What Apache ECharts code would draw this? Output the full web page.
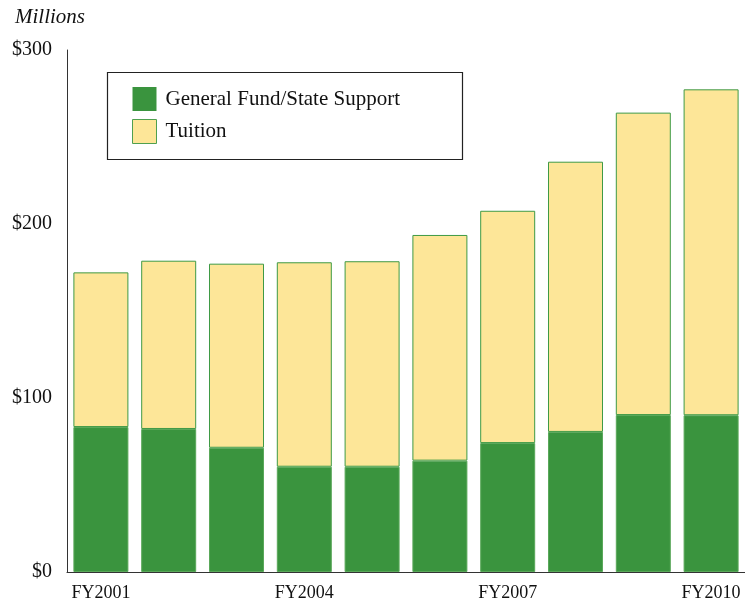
<!DOCTYPE html>
<html><head><meta charset="utf-8">
<script src="https://cdn.jsdelivr.net/npm/echarts@6/dist/echarts.min.js"></script>
<style>html,body{margin:0;padding:0;background:#fff}#c{width:745px;height:603px}</style>
</head><body><div id="c"></div>
<script>
const categories = ['FY2001','FY2002','FY2003','FY2004','FY2005','FY2006','FY2007','FY2008','FY2009','FY2010'];
const generalFund = [83.3, 82.2, 71.4, 60.5, 60.5, 64.0, 74.1, 80.5, 90.2, 90.1];
const tuition = [88.9, 96.7, 105.8, 117.5, 118.1, 129.7, 133.5, 155.3, 173.8, 187.3];
const yTicks = [0, 100, 200, 300];

const FONT = '"Liberation Serif", "DejaVu Serif", serif';
const GREEN = '#3a943e';
const YELLOW = '#fde698';

const chart = echarts.init(document.getElementById('c'), null, {renderer: 'canvas'});
chart.setOption({
  animation: false,
  textStyle: {fontFamily: FONT},
  grid: {left: 67, right: -2, top: 50, bottom: 31, containLabel: false},
  graphic: [
    {type: 'text', left: 15, top: 7, style: {text: 'Millions', font: 'italic 21px ' + FONT, fill: '#111'}},
    {type: 'rect', shape: {x: 107.5, y: 72.5, width: 355, height: 87}, style: {fill: 'rgba(0,0,0,0)', stroke: '#222', lineWidth: 1.2}, z: 10}
  ],
  legend: {
    orient: 'vertical', left: 132, top: 87, padding: 0,
    itemWidth: 24, itemHeight: 24, itemGap: 8,
    icon: 'rect',
    textStyle: {fontFamily: FONT, fontSize: 21, color: '#111', padding: [0, 0, 0, 4]},
    data: [
      {name: 'General Fund/State Support', itemStyle: {color: GREEN, borderColor: GREEN, borderWidth: 0}},
      {name: 'Tuition', itemStyle: {color: YELLOW, borderColor: '#4fa04f', borderWidth: 1}}
    ]
  },
  xAxis: {
    type: 'category', data: categories,
    axisLine: {lineStyle: {color: '#333', width: 1}},
    axisTick: {show: false},
    axisLabel: {interval: 2, color: '#111', fontSize: 18, fontFamily: FONT, margin: 12}
  },
  yAxis: {
    type: 'value', min: 0, max: 300, interval: 100,
    axisLine: {show: true, lineStyle: {color: '#333', width: 1}},
    axisTick: {show: false},
    splitLine: {show: false},
    axisLabel: {color: '#111', fontSize: 20, fontFamily: FONT, margin: 15,
      formatter: v => yTicks.includes(v) ? '$' + v : ''}
  },
  series: [
    {name: 'General Fund/State Support', type: 'bar', stack: 'a', data: generalFund, barWidth: 55,
      itemStyle: {color: GREEN, borderColor: '#5aa85a', borderWidth: 1}},
    {name: 'Tuition', type: 'bar', stack: 'a', data: tuition, barWidth: 55,
      itemStyle: {color: YELLOW, borderColor: '#3f9a45', borderWidth: 1}}
  ]
});
</script></body></html>
